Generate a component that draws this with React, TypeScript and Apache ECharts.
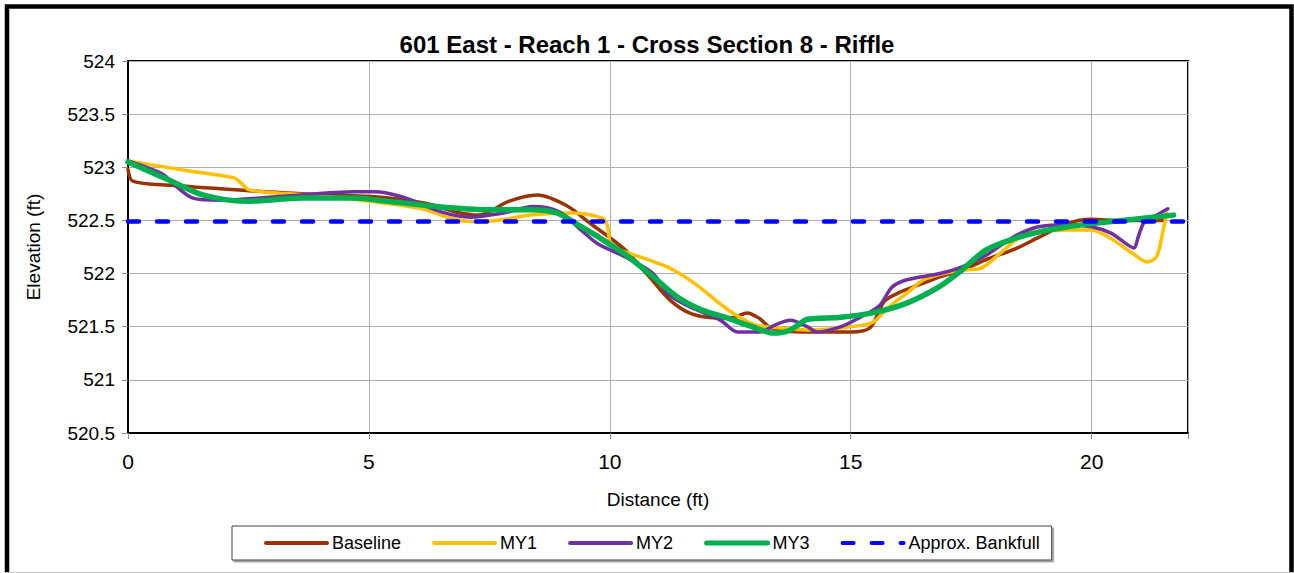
import React, { useEffect, useRef } from "react";
import * as echarts from "echarts";

// Surveyed cross-section profiles: station (ft) and elevation (ft)
const baselineX = [0, 0.1, 0.9, 2.5, 3.6, 5.2, 6.2, 6.8, 7.3, 7.9, 8.5, 9.1, 9.6, 10.3, 10.8, 11.25, 11.7, 12.3, 12.6, 12.85, 13.1, 13.35, 14.0, 15.0, 15.4, 15.7, 16.0, 16.45, 16.85, 17.3, 17.8, 18.4, 18.9, 19.5, 20.0, 20.6, 21.5];
const baselineY = [522.98, 522.87, 522.83, 522.78, 522.75, 522.72, 522.66, 522.58, 522.55, 522.68, 522.74, 522.64, 522.47, 522.23, 521.98, 521.75, 521.62, 521.58, 521.59, 521.63, 521.58, 521.49, 521.45, 521.45, 521.49, 521.74, 521.82, 521.9, 521.97, 522.03, 522.13, 522.23, 522.34, 522.47, 522.51, 522.5, 522.5];

const my1X = [0, 1.2, 2.2, 2.35, 2.5, 3.0, 4.0, 5.2, 6.1, 6.7, 7.1, 7.65, 8.35, 9.2, 9.85, 9.95, 10.0, 10.1, 10.35, 11.2, 11.75, 12.45, 13.0, 13.5, 14.1, 15.0, 15.45, 15.8, 16.15, 16.55, 17.25, 17.7, 18.1, 18.5, 18.8, 19.5, 20.0, 20.4, 20.85, 21.15, 21.35, 21.48, 21.56];
const my1Y = [523.06, 522.97, 522.9, 522.85, 522.79, 522.76, 522.73, 522.67, 522.61, 522.52, 522.49, 522.5, 522.55, 522.57, 522.52, 522.45, 522.3, 522.24, 522.2, 522.06, 521.91, 521.66, 521.52, 521.49, 521.47, 521.5, 521.54, 521.69, 521.81, 521.95, 522.03, 522.05, 522.19, 522.34, 522.39, 522.41, 522.41, 522.33, 522.19, 522.11, 522.16, 522.4, 522.57];

const my2X = [0, 0.7, 1.0, 1.35, 1.9, 3.3, 4.7, 5.1, 5.7, 6.5, 7.1, 7.8, 8.4, 8.95, 9.4, 9.75, 10.3, 10.9, 11.2, 11.6, 12.3, 12.65, 13.1, 13.45, 13.75, 14.1, 14.3, 14.8, 15.2, 15.6, 15.85, 16.15, 16.85, 17.3, 17.8, 18.4, 18.9, 19.5, 20.0, 20.4, 20.75, 20.88, 20.97, 21.1, 21.35, 21.58];
const my2Y = [523.06, 522.94, 522.82, 522.71, 522.69, 522.73, 522.77, 522.77, 522.72, 522.58, 522.53, 522.57, 522.63, 522.58, 522.41, 522.28, 522.16, 522.0, 521.81, 521.7, 521.56, 521.45, 521.45, 521.52, 521.56, 521.5, 521.45, 521.5, 521.59, 521.7, 521.87, 521.94, 522.0, 522.06, 522.17, 522.35, 522.44, 522.46, 522.44, 522.38, 522.27, 522.24, 522.35, 522.49, 522.55, 522.61];

const my3X = [0, 0.85, 1.55, 2.45, 3.6, 4.7, 5.2, 6.4, 7.45, 8.35, 8.9, 9.3, 9.85, 10.35, 10.9, 11.4, 11.9, 12.45, 12.95, 13.4, 13.7, 13.95, 14.1, 14.8, 15.45, 16.15, 16.85, 17.3, 17.8, 18.4, 18.9, 19.5, 20.0, 20.85, 21.7];
const my3Y = [523.05, 522.88, 522.74, 522.68, 522.71, 522.71, 522.69, 522.63, 522.6, 522.6, 522.57, 522.47, 522.32, 522.17, 521.97, 521.78, 521.66, 521.58, 521.5, 521.44, 521.46, 521.53, 521.57, 521.59, 521.63, 521.72, 521.88, 522.03, 522.22, 522.33, 522.39, 522.44, 522.47, 522.51, 522.55];

const bankfullX = [0, 22];
const bankfullY = [522.49, 522.49];

const seriesNames = ["Baseline", "MY1", "MY2", "MY3", "Approx. Bankfull"];
const seriesColors = ["#993300", "#FFC000", "#7030A0", "#00B050", "#0000FF"];
const seriesWidths = [3.5, 3.5, 3.5, 5.5, 4.5];
const xTicks = [0, 5, 10, 15, 20];

const FONT = 'Arial, "Liberation Sans", sans-serif';
const BANKFULL_DASH = [11, 18];

const pairs = (xs: number[], ys: number[]) => xs.map((x, i) => [x, ys[i]]);

export default function App() {
  const ref = useRef<HTMLDivElement>(null);

  useEffect(() => {
    document.body.style.margin = "0";
    const chart = echarts.init(ref.current!, null, { renderer: "svg" });

    const line = (i: number, xs: number[], ys: number[]) => ({
      name: seriesNames[i],
      type: "line",
      data: pairs(xs, ys),
      smooth: 0.3,
      symbol: "none",
      lineStyle: { color: seriesColors[i], width: seriesWidths[i], cap: "round", join: "round" },
      itemStyle: { color: seriesColors[i] },
    });

    // legend entries show only the line stroke, no marker
    const legendData = seriesNames.map((name, i) => ({
      name,
      itemStyle: { opacity: 0 },
      lineStyle: {
        color: seriesColors[i],
        width: i === 3 ? 5 : 4,
        type: i === 4 ? BANKFULL_DASH : "solid",
        cap: "round",
      },
    }));

    chart.setOption({
      animation: false,
      backgroundColor: "#fff",
      textStyle: { fontFamily: FONT, color: "#000" },
      title: {
        text: "601 East - Reach 1 - Cross Section 8 - Riffle",
        left: "center",
        top: 27,
        textStyle: { fontFamily: FONT, fontSize: 24, fontWeight: "bold", color: "#000" },
      },
      graphic: [
        {
          type: "rect",
          shape: { x: 7, y: 6.5, width: 1284.5, height: 620 },
          style: { fill: "none", stroke: "#000", lineWidth: 4.5 },
          silent: true,
        },
        {
          type: "line",
          shape: { x1: 5, y1: 572.5, x2: 1294, y2: 572.5 },
          style: { stroke: "#c8c8c8", lineWidth: 1 },
          silent: true,
        },
      ],
      grid: {
        left: 128,
        top: 61,
        right: 106,
        bottom: 140,
        show: true,
        borderColor: "#000",
        borderWidth: 2,
        backgroundColor: "#fff",
      },
      legend: {
        data: legendData,
        left: 232,
        top: 526,
        padding: [8, 12, 8, 32],
        itemWidth: 61,
        itemHeight: 18,
        itemGap: 31,
        itemStyle: { opacity: 0 },
        backgroundColor: "#fff",
        borderColor: "#404040",
        borderWidth: 1,
        shadowColor: "rgba(0,0,0,0.35)",
        shadowOffsetX: 2,
        shadowOffsetY: 2,
        shadowBlur: 0,
        textStyle: { fontFamily: FONT, fontSize: 18, color: "#000" },
      },
      xAxis: {
        type: "value",
        min: 0,
        max: 22,
        interval: 5,
        name: "Distance (ft)",
        nameLocation: "middle",
        nameGap: 57,
        nameTextStyle: { fontFamily: FONT, fontSize: 19, color: "#000" },
        axisLine: { show: true, lineStyle: { color: "#000", width: 2 } },
        axisTick: { show: true, length: 6, lineStyle: { color: "#8c8c8c" } },
        axisLabel: {
          fontFamily: FONT,
          fontSize: 21,
          color: "#000",
          margin: 18,
          formatter: (v: number) => (xTicks.includes(v) ? String(v) : ""),
        },
        splitLine: { show: true, lineStyle: { color: "#b0b0b0", width: 1 } },
      },
      yAxis: {
        type: "value",
        min: 520.5,
        max: 524,
        interval: 0.5,
        name: "Elevation (ft)",
        nameLocation: "middle",
        nameGap: 85,
        nameTextStyle: { fontFamily: FONT, fontSize: 19, color: "#000" },
        axisLine: { show: true, lineStyle: { color: "#000", width: 2 } },
        axisTick: { show: true, length: 6, lineStyle: { color: "#8c8c8c" } },
        axisLabel: { fontFamily: FONT, fontSize: 19, color: "#000", margin: 13 },
        splitLine: { show: true, lineStyle: { color: "#b0b0b0", width: 1 } },
      },
      series: [
        line(0, baselineX, baselineY),
        line(1, my1X, my1Y),
        line(2, my2X, my2Y),
        line(3, my3X, my3Y),
        {
          name: seriesNames[4],
          type: "line",
          data: pairs(bankfullX, bankfullY),
          symbol: "none",
          lineStyle: { color: seriesColors[4], width: seriesWidths[4], type: BANKFULL_DASH, cap: "round" },
          itemStyle: { color: seriesColors[4] },
        },
      ],
    });

    return () => chart.dispose();
  }, []);

  return <div ref={ref} style={{ width: 1294, height: 573 }} />;
}
